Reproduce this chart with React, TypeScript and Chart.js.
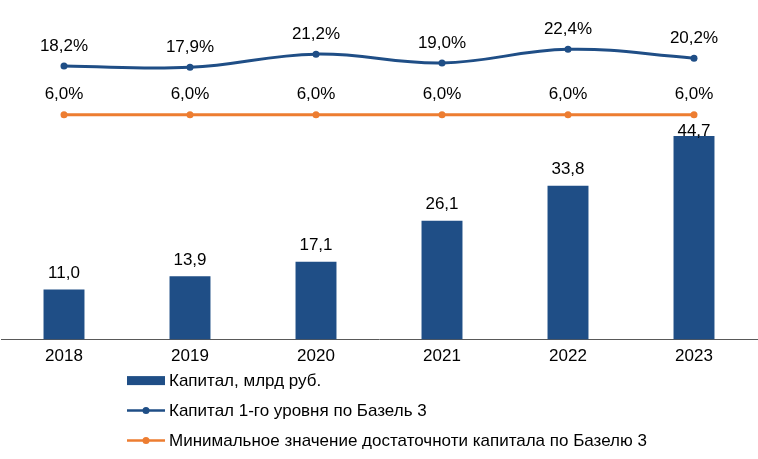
import React, { useEffect, useRef } from "react";
import { Chart, registerables } from "chart.js";

Chart.register(...registerables);

const categories = ["2018", "2019", "2020", "2021", "2022", "2023"];
const capitalValues = [11.0, 13.9, 17.1, 26.1, 33.8, 44.7];
const tier1Values = [18.2, 17.9, 21.2, 19.0, 22.4, 20.2];
const minValues = [6.0, 6.0, 6.0, 6.0, 6.0, 6.0];
const seriesNames = [
  "Капитал, млрд руб.",
  "Капитал 1-го уровня по Базель 3",
  "Минимальное значение достаточноти капитала по Базелю 3",
];

const BLUE = "#1F4E86";
const ORANGE = "#ED7D31";
const FONT = '"Liberation Sans", Arial, sans-serif';
const TEXT = "#000000";
const FS = 17;

const fmt = (v: number) => v.toFixed(1).replace(".", ",");

const labelsPlugin = {
  id: "valueLabels",
  afterDatasetsDraw(chart: any) {
    const ctx = chart.ctx;
    ctx.save();
    ctx.font = `${FS}px ${FONT}`;
    ctx.fillStyle = TEXT;
    ctx.textAlign = "center";
    ctx.textBaseline = "middle";
    const barMeta = chart.getDatasetMeta(0);
    const blueMeta = chart.getDatasetMeta(1);
    const orangeMeta = chart.getDatasetMeta(2);
    barMeta.data.forEach((el: any, i: number) => {
      const oy = orangeMeta.data[i].y;
      const y = Math.max(el.y - 16, oy + 16);
      ctx.fillText(fmt(capitalValues[i]), el.x, y);
    });
    blueMeta.data.forEach((el: any, i: number) => {
      ctx.fillText(fmt(tier1Values[i]) + "%", el.x, el.y - 20);
    });
    orangeMeta.data.forEach((el: any, i: number) => {
      ctx.fillText(fmt(minValues[i]) + "%", el.x, el.y - 21);
    });
    ctx.restore();
  },
};

const legendPlugin = {
  id: "customLegend",
  afterDraw(chart: any) {
    const ctx = chart.ctx;
    const base = chart.chartArea.bottom;
    const x0 = 127;
    const swW = 38;
    const rows = [base + 41, base + 71, base + 101];
    ctx.save();
    ctx.fillStyle = BLUE;
    ctx.fillRect(x0, rows[0] - 4.5, swW, 9);
    [BLUE, ORANGE].forEach((c, k) => {
      const y = rows[k + 1];
      ctx.strokeStyle = c;
      ctx.lineWidth = 2.5;
      ctx.beginPath();
      ctx.moveTo(x0, y);
      ctx.lineTo(x0 + swW, y);
      ctx.stroke();
      ctx.fillStyle = c;
      ctx.beginPath();
      ctx.arc(x0 + swW / 2, y, 3.5, 0, Math.PI * 2);
      ctx.fill();
    });
    ctx.font = `${FS}px ${FONT}`;
    ctx.fillStyle = TEXT;
    ctx.textAlign = "left";
    ctx.textBaseline = "middle";
    seriesNames.forEach((n, k) => {
      ctx.fillText(n, x0 + swW + 4, rows[k] + 1);
    });
    ctx.restore();
  },
};

export default function App() {
  const ref = useRef<HTMLCanvasElement | null>(null);
  useEffect(() => {
    if (!ref.current) return;
    const chart = new Chart(ref.current, {
      type: "bar",
      data: {
        labels: categories,
        datasets: [
          {
            type: "bar",
            label: seriesNames[0],
            data: capitalValues,
            backgroundColor: BLUE,
            yAxisID: "y",
            order: 2,
            barPercentage: 0.325,
            categoryPercentage: 1,
          },
          {
            type: "line",
            label: seriesNames[1],
            data: tier1Values,
            borderColor: BLUE,
            backgroundColor: BLUE,
            borderWidth: 3,
            pointRadius: 3.5,
            pointBackgroundColor: BLUE,
            pointBorderWidth: 0,
            tension: 0.4,
            yAxisID: "y2",
            order: 0,
          },
          {
            type: "line",
            label: seriesNames[2],
            data: minValues,
            borderColor: ORANGE,
            backgroundColor: ORANGE,
            borderWidth: 3,
            pointRadius: 3.5,
            pointBackgroundColor: ORANGE,
            pointBorderWidth: 0,
            tension: 0,
            yAxisID: "y2",
            order: 1,
          },
        ],
      },
      options: {
        responsive: false,
        animation: false,
        layout: { autoPadding: false, padding: { left: 1, right: 1, top: 0, bottom: 85 } },
        plugins: {
          legend: { display: false },
          tooltip: { enabled: false },
        },
        scales: {
          x: {
            grid: { display: false, drawTicks: false },
            border: { display: true, color: "#595959", width: 1 },
            ticks: { font: { family: FONT, size: FS }, color: TEXT, padding: 7 },
          },
          y: { display: false, min: 0, max: 74.6 },
          y2: { display: false, min: -50.25, max: 34.75 },
        },
      },
      plugins: [labelsPlugin, legendPlugin],
    } as any);
    return () => chart.destroy();
  }, []);
  return (
    <div style={{ position: "fixed", left: 0, top: 0, width: 758, height: 459, background: "#fff" }}>
      <canvas ref={ref} width={758} height={459} style={{ width: 758, height: 459 }} />
    </div>
  );
}
